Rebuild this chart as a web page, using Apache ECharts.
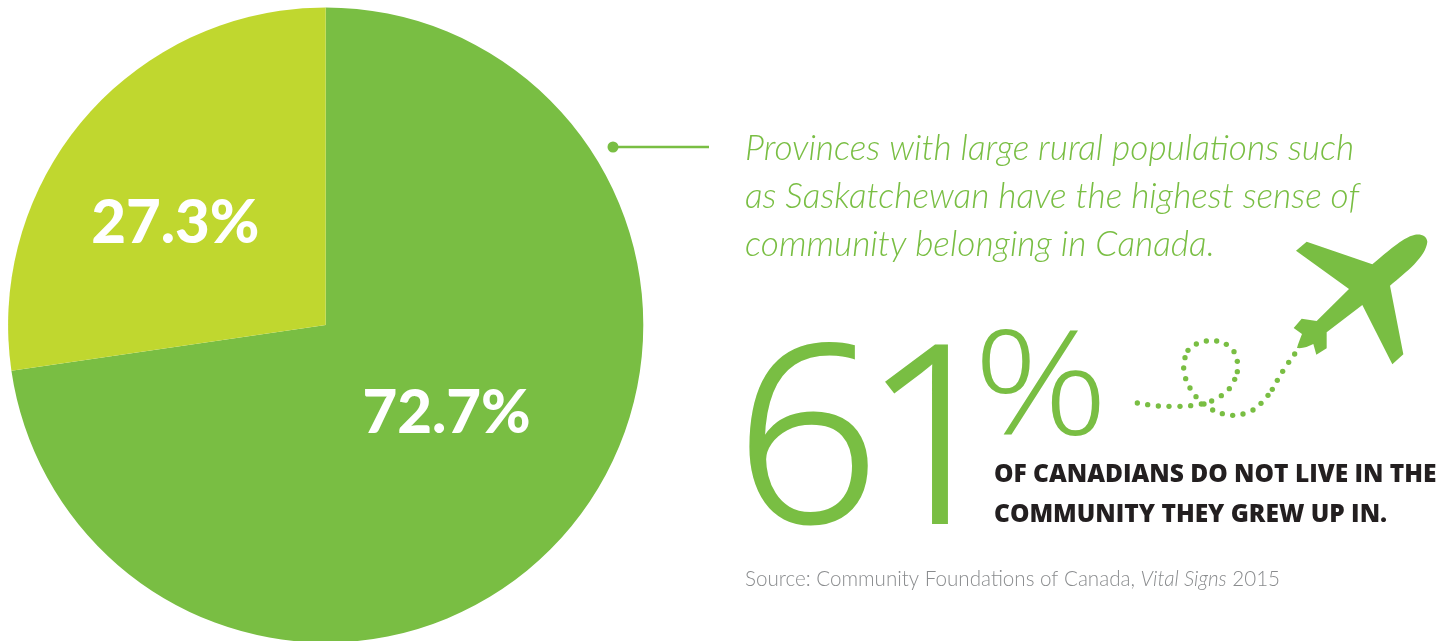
<!DOCTYPE html>
<html>
<head>
<meta charset="utf-8">
<style>html,body{margin:0;padding:0;background:#fff}#c{width:1456px;height:641px}</style>
<script src="https://cdn.jsdelivr.net/npm/echarts@6/dist/echarts.min.js"></script>
</head>
<body>
<div id="c"></div>
<script>
const categories = ['Belong', 'Other'];
const shares = [72.7, 27.3];
const sliceColors = ['#79be43', '#c0d72f'];
const calloutLines = [
  'Provinces with large rural populations such',
  'as Saskatchewan have the highest sense of',
  'community belonging in Canada.'
];
const statLines = ['OF CANADIANS DO NOT LIVE IN THE', 'COMMUNITY THEY GREW UP IN.'];
const GREEN = '#79be43';

// Flight trail behind the aeroplane, in the icon's own coordinates
const trail = [[52,549],[83,554],[115,558],[147,559],[180,559],[212,557],[244,552],[252,552],[275,543],[304,527],[328,506],[344,478],[352,455],[352,424],[342,395],[319,373],[290,363],[259,363],[229,372],[204,391],[195,413],[191,444],[197,476],[210,504],[228,530],[278,570],[307,581],[338,586],[369,582],[399,570],[423,550],[444,526],[457,508],[472,481],[488,454],[506,427],[524,402]];
const planePath = 'M922 65C920 48 905 41 885 44C860 49 830 70 757 133L560 65L528 92L687 207L590 303L545 296L521 324L546 342C540 358 534 372 531 384C548 386 565 380 580 372L589 404L620 385L620 337L727 255L817 433L850 403L810 197C860 155 918 110 922 65Z';

echarts.graphic.registerShape('plane', echarts.graphic.extendPath(planePath, {}));

const chart = echarts.init(document.getElementById('c'), null, {renderer: 'canvas'});
const labelShift = [{dx: -1.5, dy: -17}, {dx: -28, dy: 5}];

// Places a text by its baseline; zrender positions it from the top of the line box
const text = (x, baseline, size, str, font, fill, k = 0.86) => ({
  type: 'text', x, y: baseline - size * k,
  style: {text: str, font, fill, textAlign: 'left'},
  silent: true
});
const OS_BASE = 0.78;
const BIG_FONT = '300 246px "Open Sans"';

const graphics = [
  {type: 'line', shape: {x1: 613, y1: 147, x2: 709, y2: 147}, style: {stroke: GREEN, lineWidth: 2.5}},
  {type: 'circle', shape: {cx: 613, cy: 147, r: 5.5}, style: {fill: GREEN}},
  ...calloutLines.map((s, i) => text(745, 161 + i * 48, 35.3, s, 'italic 300 35.3px Lato', GREEN)),
  {...text(735, 521, 246, '6', BIG_FONT, GREEN, OS_BASE), scaleX: 1.03,
   style: {text: '6', font: BIG_FONT, fill: GREEN, stroke: GREEN, lineWidth: 3}},
  {...text(864, 521, 246, '1', BIG_FONT, GREEN, OS_BASE),
   style: {text: '1', font: BIG_FONT, fill: GREEN, stroke: GREEN, lineWidth: 4}},
  {...text(973, 434, 146, '%', '300 146px "Open Sans"', GREEN, OS_BASE), scaleX: 1.15},
  ...statLines.map((s, i) => text(994, 482 + i * 40, 24.5, s, '800 24.5px "Open Sans"', '#231f20', OS_BASE)),
  {
    type: 'text', x: 745, y: 587 - 20.6 * 0.86,
    style: {
      text: '{a|Source: Community Foundations of Canada, }{b|Vital Signs}{a| 2015}',
      rich: {
        a: {font: '300 20.6px Lato', fill: '#8a8c8e'},
        b: {font: 'italic 300 20.6px Lato', fill: '#8a8c8e'}
      }
    }
  },
  {type: 'plane', x: 1120, y: 220, scaleX: 1 / 3, scaleY: 1 / 3, style: {fill: GREEN}},
  ...trail.map(([x, y]) => ({
    type: 'circle', x: 1120, y: 220, scaleX: 1 / 3, scaleY: 1 / 3,
    shape: {cx: x, cy: y, r: 8}, style: {fill: GREEN}
  }))
];

chart.setOption({
  animation: false,
  backgroundColor: '#fff',
  graphic: graphics,
  series: [{
    type: 'pie',
    center: [325.7, 325],
    radius: [0, 317.6],
    startAngle: 90,
    clockwise: true,
    silent: true,
    avoidLabelOverlap: false,
    labelLine: {show: false},
    label: {
      show: true,
      position: 'inside',
      formatter: '{c}%',
      color: '#fff',
      fontFamily: 'Lato',
      fontWeight: 900,
      fontSize: 60
    },
    labelLayout: p => labelShift[p.dataIndex],
    data: categories.map((name, i) => ({
      name, value: shares[i], itemStyle: {color: sliceColors[i]}
    }))
  }]
});
</script>
</body>
</html>
